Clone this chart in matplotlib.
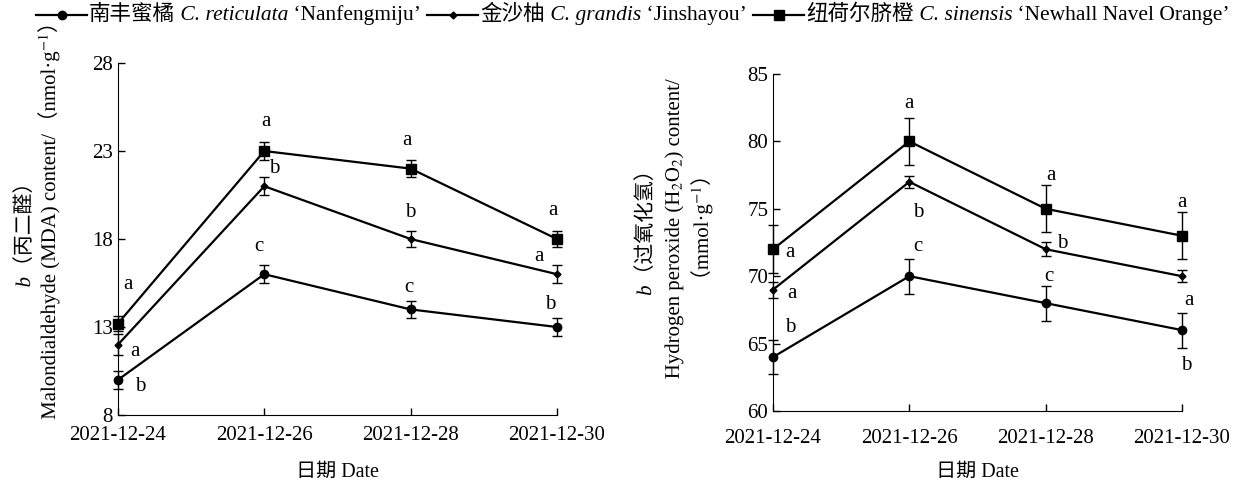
import matplotlib
matplotlib.use("Agg")
import matplotlib.pyplot as plt
from matplotlib.lines import Line2D
from matplotlib.textpath import TextPath
from matplotlib.patches import PathPatch
from matplotlib.font_manager import FontProperties
from matplotlib.transforms import Affine2D, IdentityTransform

plt.rcParams['font.family'] = ['Liberation Serif', 'Noto Sans CJK SC', 'DejaVu Serif']
plt.rcParams['mathtext.fontset'] = 'stix'

dates = ["2021-12-24", "2021-12-26", "2021-12-28", "2021-12-30"]
x = [0, 1, 2, 3]

# MDA content, nmol/g
mda_nanfeng = [10.0, 16.0, 14.0, 13.0]
mda_nanfeng_err = [0.5, 0.5, 0.5, 0.5]
mda_jinsha = [12.0, 21.0, 18.0, 16.0]
mda_jinsha_err = [0.6, 0.5, 0.45, 0.5]
mda_newhall = [13.2, 23.0, 22.0, 18.0]
mda_newhall_err = [0.45, 0.5, 0.5, 0.45]

# H2O2 content, mmol/g
h2o2_nanfeng = [64.0, 70.0, 68.0, 66.0]
h2o2_nanfeng_err = [1.25, 1.3, 1.3, 1.3]
h2o2_jinsha = [69.0, 77.0, 72.0, 70.0]
h2o2_jinsha_err = [0.6, 0.45, 0.5, 0.45]
h2o2_newhall = [72.0, 80.0, 75.0, 73.0]
h2o2_newhall_err = [1.8, 1.75, 1.75, 1.75]

# significance letters (x, y, letter)
mda_letters = [(0.07, 15.4, "a"), (0.116, 11.6, "a"), (0.15, 9.6, "b"),
               (1.01, 24.65, "a"), (1.066, 21.98, "b"), (0.964, 17.55, "c"),
               (1.975, 23.6, "a"), (1.996, 19.48, "b"), (1.99, 15.27, "c"),
               (2.973, 19.6, "a"), (2.878, 17.03, "a"), (2.953, 14.3, "b")]
h2o2_letters = [(0.125, 71.72, "a"), (0.14, 68.75, "a"), (0.125, 66.17, "b"),
                (1.0, 82.78, "a"), (1.066, 74.7, "b"), (1.059, 72.2, "c"),
                (2.04, 77.5, "a"), (2.12, 72.45, "b"), (2.02, 70.0, "c"),
                (3.0, 75.49, "a"), (3.05, 68.16, "a"), (3.03, 63.34, "b")]

# legend: (chinese name, latin species, cultivar)
cn_names = ["南丰蜜橘", "金沙柚", "纽荷尔脐橙"]
species = ["C. reticulata", "C. grandis", "C. sinensis"]
cultivars = ["‘Nanfengmiju’", "‘Jinshayou’", "‘Newhall Navel Orange’"]
markers = ['o', 'D', 's']
msizes = [6, 3.5, 7]

SERIF = 'Liberation Serif'
CJK = 'Noto Sans CJK SC'

W, H = 1243, 487
fig = plt.figure(figsize=(W / 100, H / 100), dpi=100)
ax1 = fig.add_axes([0.0949, 0.1478, 0.3532, 0.7228])
ax2 = fig.add_axes([0.6219, 0.1561, 0.3290, 0.6920])
renderer = fig.canvas.get_renderer()


def text_width(s, **kw):
    t = fig.text(0, 0, s, **kw)
    w = t.get_window_extent(renderer).width
    t.remove()
    return w


def put_pieces(px, py, pieces):
    # horizontal run of (text, kwargs) pieces starting at pixel px, baseline py
    pos = 0
    for s, kw in pieces:
        fig.text((px + pos) / W, py / H, s, ha='left', va='baseline', **kw)
        pos += text_width(s, **kw)
    return pos


def rot_label(px, pyc, pieces):
    # vertical run drawn as glyph outlines: baseline at pixel px, centred on pyc
    widths = [text_width(s, **kw) for s, kw in pieces]
    y = pyc - sum(widths) / 2
    for (s, kw), w in zip(pieces, widths):
        prop = FontProperties(family=kw.get('family', SERIF), style=kw.get('style', 'normal'))
        tp = TextPath((0, 0), s, size=kw['fontsize'] * 100 / 72, prop=prop)
        path = Affine2D().rotate_deg(90).translate(px, y).transform_path(tp)
        fig.add_artist(PathPatch(path, facecolor='black', edgecolor='none',
                                 transform=IdentityTransform()))
        y += w


def draw(ax, series, errs, letters):
    for ys, es, m, ms in zip(series, errs, markers, msizes):
        ax.errorbar(x, ys, yerr=es, color='black', lw=1.6, marker=m, ms=ms,
                    capsize=3.5, elinewidth=1.0, capthick=1.0, clip_on=False, zorder=3)
    for lx, ly, t in letters:
        ax.text(lx, ly, t, fontsize=15, ha='center', va='center')
    ax.set_xlim(0, 3)
    ax.set_xticks(x)
    ax.set_xticklabels(dates)
    ax.spines['top'].set_visible(False)
    ax.spines['right'].set_visible(False)
    ax.tick_params(direction='in', length=5, width=1, labelsize=15)


draw(ax1, [mda_nanfeng, mda_jinsha, mda_newhall],
     [mda_nanfeng_err, mda_jinsha_err, mda_newhall_err], mda_letters)
ax1.set_ylim(8, 28)
ax1.set_yticks([8, 13, 18, 23, 28])
ax1.tick_params(axis='x', pad=8)
ax1.set_xlabel("日期 Date", fontsize=14.5, labelpad=13)

draw(ax2, [h2o2_nanfeng, h2o2_jinsha, h2o2_newhall],
     [h2o2_nanfeng_err, h2o2_jinsha_err, h2o2_newhall_err], h2o2_letters)
ax2.set_ylim(60, 85)
ax2.set_yticks([60, 65, 70, 75, 80, 85])
ax2.tick_params(axis='x', pad=13)
ax2.set_xlabel("日期 Date", fontsize=14.5, labelpad=11)

# y labels
fs = 15
lat = dict(fontsize=fs, family=SERIF)
ita = dict(fontsize=fs, family=SERIF, style='italic')
han = dict(fontsize=fs, family=CJK)
rot_label(30, H - 230, [("b", ita), ("（丙二醛）", han)])
rot_label(55, H - 216, [("Malondialdehyde (MDA) content/", lat), ("（", han),
                        ("nmol·g$^{-1}$", dict(fontsize=fs)), ("）", han)])
rot_label(651, H - 228, [("b", ita), ("（过氧化氢）", han)])
rot_label(679, H - 228, [("Hydrogen peroxide (H$_2$O$_2$) content/", dict(fontsize=fs))])
rot_label(708, H - 228, [("（", han), ("mmol·g$^{-1}$", dict(fontsize=fs)), ("）", han)])

# legend drawn by hand along the top
lx = 36
ly = H - 15
lfs = 15.5
for cn, sp, cv, m, ms in zip(cn_names, species, cultivars, markers, msizes):
    fig.add_artist(Line2D([lx / W, (lx + 51) / W], [ly / H, ly / H], color='black',
                          lw=1.6, transform=fig.transFigure))
    fig.add_artist(Line2D([(lx + 25.5) / W], [ly / H], color='black', marker=m, ms=ms,
                          transform=fig.transFigure))
    lx += 53
    lx += put_pieces(lx, ly - 5, [(cn, dict(fontsize=lfs, family=CJK)),
                                  (" " + sp, dict(fontsize=lfs, family=SERIF, style='italic')),
                                  (" " + cv, dict(fontsize=lfs, family=SERIF))])
    lx += 6

fig.savefig("out.png", dpi=100)
